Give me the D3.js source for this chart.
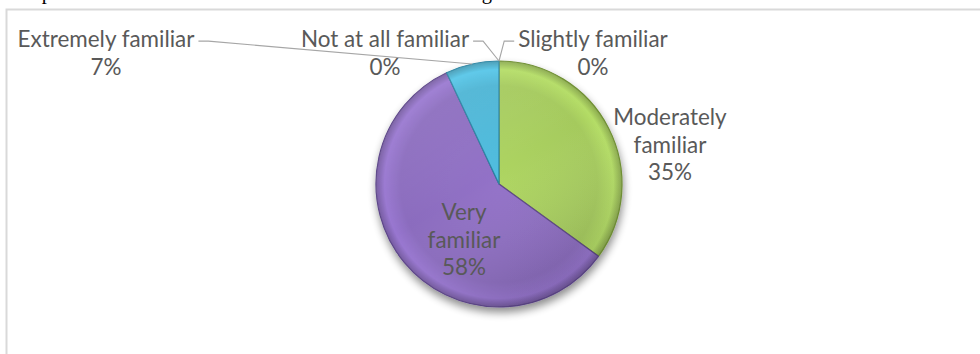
<!DOCTYPE html>
<html>
<head>
<meta charset="utf-8">
<script src="https://cdn.jsdelivr.net/npm/d3@7"></script>
<style>
  html, body { margin: 0; padding: 0; background: #fff; overflow: hidden; }
  svg { display: block; }
</style>
</head>
<body>
<svg id="chart" width="980" height="354"></svg>
<script>
// Familiarity shares, clockwise from 12 o'clock
const categories = ["Not at all familiar", "Slightly familiar", "Moderately familiar", "Very familiar", "Extremely familiar"];
const shares = [0, 0, 35, 58, 7];
const labelLines = [["Not at all familiar"], ["Slightly familiar"], ["Moderately", "familiar"], ["Very", "familiar"], ["Extremely familiar"]];
const titleText = "Graph 4: Level of awareness about the term \u201Clean thinking\u201D";

// Styling and placement
const sliceColors = ["#c0504d", "#f79646", "#a5ca5d", "#8b6cbe", "#4cb4d4"];
const sliceEdges  = ["#8c3836", "#b66d31", "#6f8f33", "#5d4689", "#2a84a3"];
const labelLayout = [
  { dx: -114, dy: -137, leader: true },
  { dx: 94,   dy: -137, leader: true },
  { dx: 171,  dy: -59,  leader: false },
  { dx: -35,  dy: 36,   leader: false },
  { dx: -393, dy: -137, leader: true }
];

const W = 980, H = 354;
const cx = 499, cy = 184, R = 123;
const lineH = 27.5;
const textColor = "#595959";
const fontFamily = "Lato, 'Open Sans', 'DejaVu Sans', sans-serif";

const svg = d3.select("#chart");

// Fit the label font size to a Calibri-like run length
const probe = svg.append("text").attr("font-family", fontFamily).attr("font-size", 24).text("Extremely familiar");
const fs = 24 * 177 / probe.node().getComputedTextLength();
probe.remove();

// Figure caption sitting above the chart frame
svg.append("text")
  .attr("x", 11).attr("y", -1)
  .attr("font-family", "'Liberation Serif', 'Times New Roman', serif")
  .attr("font-size", 20.5)
  .attr("fill", "#000")
  .text(titleText);

// Chart frame
svg.append("path")
  .attr("d", `M6.5,${H + 2} V9.5 H${W + 2}`)
  .attr("fill", "none")
  .attr("stroke", "#d9d9d9")
  .attr("stroke-width", 2);

const defs = svg.append("defs");

// Soft drop shadow under the pie
const shadow = defs.append("filter").attr("id", "pieShadow")
  .attr("x", "-20%").attr("y", "-20%").attr("width", "140%").attr("height", "140%");
shadow.append("feGaussianBlur").attr("in", "SourceAlpha").attr("stdDeviation", 4).attr("result", "b");
shadow.append("feOffset").attr("in", "b").attr("dx", 1).attr("dy", 5).attr("result", "o");
shadow.append("feComponentTransfer").attr("in", "o").attr("result", "s")
  .append("feFuncA").attr("type", "linear").attr("slope", 0.45);
const merge = shadow.append("feMerge");
merge.append("feMergeNode").attr("in", "s");
merge.append("feMergeNode").attr("in", "SourceGraphic");

// Bevel-like radial shading per slice (in the pie group's coordinates)
sliceColors.forEach((c, i) => {
  const g = defs.append("radialGradient").attr("id", "sg" + i)
    .attr("gradientUnits", "userSpaceOnUse")
    .attr("cx", 0).attr("cy", 0).attr("r", R);
  g.append("stop").attr("offset", "0%").attr("stop-color", d3.color(c).brighter(0.15));
  g.append("stop").attr("offset", "80%").attr("stop-color", c);
  g.append("stop").attr("offset", "93%").attr("stop-color", d3.color(c).brighter(0.25));
  g.append("stop").attr("offset", "100%").attr("stop-color", d3.color(c).darker(0.5));
});
const gloss = defs.append("linearGradient").attr("id", "gloss")
  .attr("x1", "0").attr("y1", "0").attr("x2", "0.6").attr("y2", "1");
gloss.append("stop").attr("offset", "0%").attr("stop-color", "#fff").attr("stop-opacity", 0.12);
gloss.append("stop").attr("offset", "55%").attr("stop-color", "#fff").attr("stop-opacity", 0);
gloss.append("stop").attr("offset", "100%").attr("stop-color", "#000").attr("stop-opacity", 0.12);

const data = categories.map((name, i) => ({ name, value: shares[i], i }));
const pie = d3.pie().value(d => d.value).sort(null).startAngle(0).endAngle(2 * Math.PI);
const arcs = pie(data);
const arc = d3.arc().innerRadius(0).outerRadius(R);

const pieG = svg.append("g").attr("transform", `translate(${cx},${cy})`);
pieG.append("g").attr("filter", "url(#pieShadow)")
  .selectAll("path")
  .data(arcs.filter(a => a.data.value > 0))
  .join("path")
  .attr("d", arc)
  .attr("fill", d => `url(#sg${d.data.i})`)
  .attr("stroke", d => sliceEdges[d.data.i])
  .attr("stroke-width", 1.2)
  .attr("stroke-linejoin", "round");
pieG.append("circle").attr("r", R).attr("fill", "url(#gloss)").attr("pointer-events", "none");

const fmt = d => d3.format(".0f")(d) + "%";

// Data labels and leader lines
const leadersG = svg.append("g")
  .attr("fill", "none")
  .attr("stroke", "#a6a6a6")
  .attr("stroke-width", 1.1);

const labelsG = svg.append("g")
  .attr("font-family", fontFamily)
  .attr("font-size", fs)
  .attr("fill", textColor)
  .attr("text-anchor", "middle");

arcs.forEach((a, i) => {
  const L = labelLayout[i];
  const lines = labelLines[i].concat([fmt(a.data.value)]);
  const x = cx + L.dx, y0 = cy + L.dy;
  const t = labelsG.append("text").attr("x", x).attr("y", y0);
  lines.forEach((ln, k) => {
    t.append("tspan").attr("x", x).attr("y", y0 + k * lineH).text(ln);
  });
  if (L.leader) {
    const firstW = t.select("tspan").node().getComputedTextLength();
    const mid = (a.startAngle + a.endAngle) / 2;
    const px = cx + R * Math.sin(mid), py = cy - R * Math.cos(mid);
    const ly = y0 - fs * 0.26;
    const side = x < px ? 1 : -1;
    const sx = x + side * (firstW / 2 + 4);
    const kx = sx + side * 10;
    leadersG.append("path").attr("d", d3.line()([[sx, ly], [kx, ly], [px, py]]));
  }
});
</script>
</body>
</html>
